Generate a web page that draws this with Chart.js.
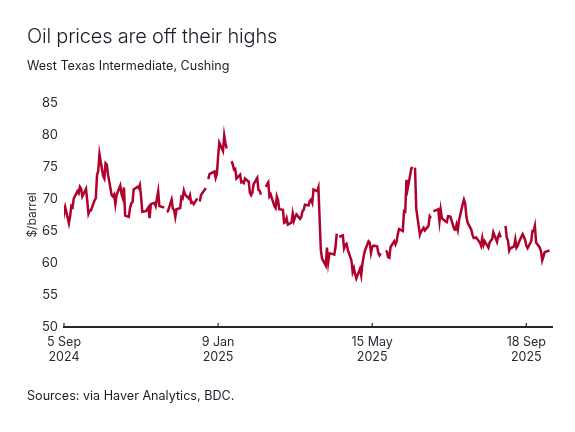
<!DOCTYPE html>
<html>
<head>
<meta charset="utf-8">
<script src="https://cdn.jsdelivr.net/npm/chart.js@4.4.1/dist/chart.umd.min.js"></script>
<style>
  html, body { margin: 0; padding: 0; background: #fff; }
  body { width: 575px; height: 432px; position: relative; overflow: hidden; font-family: "Inter", "Open Sans", sans-serif; color: #1c1c28; }
  #title { position: absolute; left: 27px; top: 24px; font-size: 20px; font-weight: 300; letter-spacing: -0.2px; white-space: nowrap; }
  #subtitle { position: absolute; left: 27px; top: 58px; font-size: 12.6px; font-weight: 400; white-space: nowrap; }
  #source { position: absolute; left: 27px; top: 388px; font-size: 12.6px; font-weight: 400; white-space: nowrap; }
  #wrap { position: absolute; left: 0; top: 0; width: 575px; height: 432px; }
</style>
</head>
<body>
<div id="wrap"><canvas id="lineChart" width="575" height="432"></canvas></div>
<div id="title">Oil prices are off their highs</div>
<div id="subtitle">West Texas Intermediate, Cushing</div>
<div id="source">Sources: via Haver Analytics, BDC.</div>
<script>
'use strict'

// WTI daily close, one value per weekday as plotted in the source; null = market holiday
var startDate = '2024-09-04';
var prices = [
  69.1, 67.7,
  68.7, 66.2, 67.3, 68.9, 68.7,
  70.1, 71.2, 70.9, 71.9, 71.6,
  70.4, 71.6, 69.7, 67.7, 68.2,
  68.2, 69.8, 70.1, 73.7, 74.4,
  77.0, 73.6, 73.2, 75.6, 75.4,
  73.8, 70.6, 70.4, 70.7, 69.2,
  70.6, 72.1, 70.8, 70.2, 71.8,
  67.4, 67.2, 68.6, 69.3, 69.5,
  71.5, 71.9, 71.7, 72.2, 70.4,
  68.0, 68.1, 68.4, 68.7, 67.0,
  69.2, 69.4, 68.9, 70.1, 71.2,
  68.9, 68.7, 68.7, null, 68.0,
  68.1, 69.9, 68.5, 68.3, 67.2,
  68.4, 68.6, 70.3, 70.1, 71.3,
  70.7, 70.1, 70.6, 69.4, 69.5,
  69.2, 70.1, null, 69.6, 70.6,
  70.9, 71.7, null, 73.1, 73.9,
  74.0, 74.3, 73.3, 73.9, 76.6,
  78.8, 77.5, 79.9, 78.7, 77.9,
  null, 75.9, 75.4, 74.6, 74.7,
  73.2, 73.8, 72.6, 72.7, 72.5,
  73.2, 72.7, 71.0, 70.6, 71.0,
  72.3, 73.3, 71.4, 71.3, 70.7,
  null, 71.9, 72.3, 72.6, 70.4,
  70.7, 68.9, 68.6, 70.4, 69.8,
  68.4, 68.3, 66.3, 66.4, 67.0,
  66.0, 66.3, 67.7, 66.6, 67.2,
  67.6, 66.9, 67.2, 68.1, 68.3,
  69.1, 69.0, 69.7, 69.9, 69.4,
  71.5, 71.2, 71.8, 66.9, 62.0,
  60.7, 59.6, 62.4, 60.1, 61.5,
  61.5, 61.3, 62.5, 64.6, null,
  64.1, 64.3, 62.3, 62.8, 63.0,
  62.1, 60.4, 58.6, 59.2, 58.3,
  57.6, 59.1, 58.1, 59.9, 61.0,
  61.9, 63.4, 63.2, 61.6, 62.5,
  62.7, 62.6, 61.6, 61.2, 61.5,
  null, 61.9, 61.8, 60.9, 60.8,
  62.5, 63.4, 62.9, 63.4, 64.6,
  65.3, 65.0, 68.1, 68.0, 73.0,
  71.6, 74.8, 75.0, null, 74.9,
  68.5, 64.4, 64.9, 65.2, 65.5,
  65.1, 65.8, 67.3, 67.0, null,
  68.1, 68.3, 68.4, 66.5, 68.3,
  66.98, 66.5, 66.4, 67.3, 67.3,
  67.2, 65.3, 65.2, 66.0, 65.2,
  66.7, 69.2, 69.9, 69.3, 67.3,
  66.3, 65.2, 64.4, 63.9, 63.9,
  64.0, 63.2, 62.7, 63.9, 62.8,
  63.4, 62.4, 63.2, 63.5, 63.7,
  64.8, 63.3, 64.2, 64.6, 64.0,
  null, 65.8, 63.97, 63.5, 61.9,
  62.3, 62.6, 63.7, 62.4, 62.7,
  63.3, 64.5, 64.1, 63.6, 62.7,
  62.3, 63.4, 65.0, 65.0, 65.8,
  63.2, 62.4, 61.8, 60.4, 61.0,
  61.7, 61.9, 61.9
];

var axisStart = '2024-09-05';
var tickDates = ['2024-09-05', '2025-01-09', '2025-05-15', '2025-09-18'];
var tickLabels = [['5 Sep', '2024'], ['9 Jan', '2025'], ['15 May', '2025'], ['18 Sep', '2025']];
var yMin = 50, yMax = 85, yStep = 5;
var lastDay = 399;

var DAY = 86400000;
var t0 = Date.parse(axisStart + 'T00:00:00Z');
function dayOf(s) { return Math.round((Date.parse(s + 'T00:00:00Z') - t0) / DAY); }

// walk the weekdays to place each close on the calendar
var points = [];
var t = Date.parse(startDate + 'T00:00:00Z');
for (var i = 0; i < prices.length; i++) {
  while ([0, 6].indexOf(new Date(t).getUTCDay()) >= 0) t += DAY;
  points.push({ x: Math.round((t - t0) / DAY), y: prices[i] });
  t += DAY;
}
var tickDays = tickDates.map(dayOf);

var ink = '#1f2733';

// small upward tick marks on the x axis line
var upTicks = {
  id: 'upTicks',
  afterDraw: function(chart) {
    var xs = chart.scales.x, ctx = chart.ctx, yb = chart.chartArea.bottom;
    ctx.save();
    ctx.strokeStyle = ink;
    ctx.lineWidth = 1.2;
    tickDays.forEach(function(d) {
      var px = xs.getPixelForValue(d);
      ctx.beginPath();
      ctx.moveTo(px, yb);
      ctx.lineTo(px, yb - 4);
      ctx.stroke();
    });
    ctx.restore();
  }
};

var chart = new Chart(document.getElementById('lineChart'), {
  type: 'line',
  data: {
    datasets: [{
      label: 'WTI',
      data: points,
      borderColor: '#b0002c',
      borderWidth: 2.5,
      pointRadius: 0,
      tension: 0,
      spanGaps: false,
      fill: false
    }]
  },
  options: {
    responsive: false,
    animation: false,
    devicePixelRatio: 1,
    layout: { padding: { left: 25, right: 23, top: 103, bottom: 62 } },
    plugins: { legend: { display: false }, tooltip: { enabled: false } },
    scales: {
      x: {
        type: 'linear',
        min: 0,
        max: lastDay,
        afterBuildTicks: function(scale) {
          scale.ticks = tickDays.map(function(d) { return { value: d }; });
        },
        afterFit: function(scale) { scale.height = 43; },
        ticks: {
          autoSkip: false,
          maxRotation: 0,
          padding: 8,
          color: '#2a2a35',
          font: { family: 'Inter', size: 12.5 },
          callback: function(v) { return tickLabels[tickDays.indexOf(v)]; }
        },
        grid: { display: false, drawTicks: false },
        border: { display: true, color: ink, width: 2 }
      },
      y: {
        min: yMin,
        max: yMax,
        afterFit: function(scale) { scale.width = 39; },
        ticks: {
          stepSize: yStep,
          padding: 6,
          color: '#2a2a35',
          font: { family: 'Inter', size: 13 }
        },
        title: {
          display: true,
          text: '$/barrel',
          color: '#2a2a35',
          font: { family: 'Inter', size: 12 },
          padding: 0
        },
        grid: { display: false, drawTicks: false },
        border: { display: false }
      }
    }
  },
  plugins: [upTicks]
});
</script>
</body>
</html>
